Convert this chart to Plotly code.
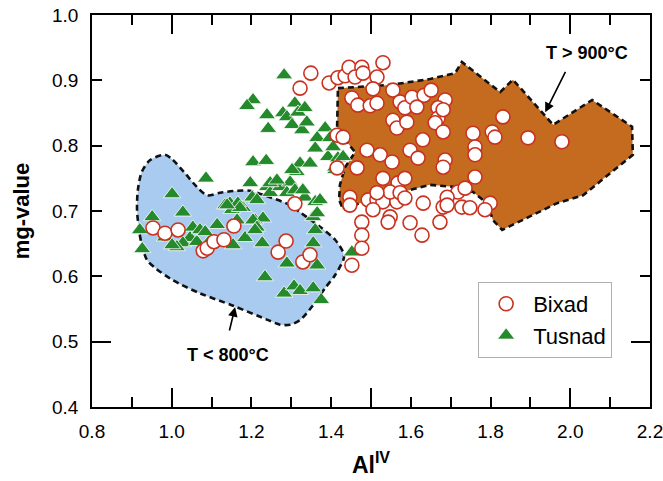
import plotly.graph_objects as go

# ---------------- data ----------------
bixad_x = [1.349,1.322,1.395,1.417,1.435,1.445,1.477,1.530,1.460,1.480,1.515,1.505,1.452,1.467,1.498,1.515,
           1.555,1.573,1.585,1.603,1.633,1.651,1.615,1.686,1.668,1.668,1.555,1.565,1.590,1.661,1.681,1.681,
           1.415,1.430,1.490,1.523,1.553,1.598,1.630,1.618,1.686,1.681,1.756,1.761,1.761,1.761,1.804,1.811,
           1.831,1.894,1.979,1.415,1.465,1.530,1.568,1.585,1.447,1.447,1.493,1.515,1.530,1.565,1.548,1.548,
           1.543,1.598,1.628,1.477,1.477,1.477,1.452,1.631,1.681,1.673,1.718,1.728,1.748,1.736,1.799,1.786,
           1.505,1.515,1.573,1.585,1.691,1.691,1.309,0.953,0.983,1.016,1.079,1.089,1.106,1.131,1.156,1.267,
           1.287,1.329,1.347]
bixad_y = [0.911,0.888,0.896,0.904,0.907,0.920,0.920,0.927,0.905,0.911,0.905,0.887,0.873,0.862,0.861,0.865,
           0.885,0.867,0.858,0.874,0.877,0.885,0.859,0.870,0.858,0.842,0.839,0.827,0.836,0.835,0.821,0.855,
           0.816,0.813,0.793,0.786,0.775,0.793,0.809,0.781,0.778,0.767,0.819,0.798,0.786,0.752,0.821,0.813,
           0.844,0.812,0.806,0.766,0.766,0.750,0.743,0.750,0.721,0.709,0.717,0.717,0.714,0.714,0.729,0.691,
           0.683,0.682,0.663,0.683,0.663,0.643,0.617,0.712,0.706,0.683,0.729,0.706,0.705,0.735,0.712,0.702,
           0.702,0.728,0.728,0.720,0.721,0.709,0.711,0.674,0.666,0.671,0.639,0.643,0.653,0.656,0.677,0.637,
           0.654,0.622,0.633]

tusnad_x = [0.920,0.926,0.951,1.001,1.028,1.086,1.046,1.028,1.013,1.063,1.053,1.071,0.983,1.001,1.114,1.134,
            1.151,1.179,1.164,1.209,1.229,1.184,1.154,1.227,1.202,1.239,1.247,1.272,1.297,1.314,1.289,1.309,
            1.234,1.282,1.307,1.322,1.355,1.375,1.365,1.355,1.289,1.282,1.204,1.189,1.239,1.242,1.279,1.289,
            1.309,1.317,1.334,1.302,1.327,1.339,1.385,1.365,1.397,1.360,1.392,1.417,1.410,1.204,1.237,1.322,
            1.302,1.347,1.247,1.264,1.334,1.360,1.146,1.166,1.197,1.214,1.372,1.355,1.360,1.204,1.214,1.329,
            1.365,1.405,1.430,1.410,1.452,1.171,1.139,1.096,1.084,1.209]
tusnad_y = [0.671,0.642,0.691,0.726,0.698,0.750,0.659,0.651,0.645,0.653,0.675,0.671,0.660,0.648,0.679,0.709,
            0.702,0.705,0.686,0.686,0.689,0.659,0.648,0.651,0.721,0.737,0.728,0.737,0.744,0.760,0.728,0.732,
            0.599,0.574,0.585,0.578,0.582,0.564,0.617,0.651,0.620,0.908,0.870,0.861,0.847,0.826,0.850,0.844,
            0.865,0.851,0.858,0.832,0.824,0.836,0.827,0.812,0.812,0.796,0.783,0.781,0.763,0.775,0.777,0.773,
            0.763,0.773,0.743,0.747,0.721,0.714,0.712,0.712,0.743,0.717,0.717,0.691,0.671,0.686,0.675,0.732,
            0.697,0.798,0.783,0.767,0.637,0.705,0.709,0.655,0.668,0.671]

# T < 800 C field (blue)
blue_x = [0.983,1.003,1.033,1.063,1.089,1.121,1.164,1.196,1.247,1.297,1.322,1.372,1.410,1.430,1.432,1.410,
          1.385,1.355,1.322,1.297,1.272,1.242,1.154,1.071,1.003,0.958,0.938,0.925,0.918,0.913,0.915,0.925,0.946]
blue_y = [0.786,0.778,0.758,0.737,0.724,0.728,0.731,0.731,0.721,0.709,0.698,0.676,0.656,0.637,0.628,0.602,
          0.582,0.556,0.533,0.526,0.526,0.533,0.555,0.574,0.594,0.613,0.625,0.648,0.671,0.702,0.732,0.760,0.778]

# T > 900 C field (orange)
orange_x = [1.417,1.548,1.648,1.711,1.728,1.824,1.856,1.957,2.055,2.155,2.157,2.032,1.967,1.829,1.806,1.791,
            1.756,1.706,1.648,1.598,1.523,1.472,1.430,1.420,1.422,1.435,1.460,1.430,1.415]
orange_y = [0.888,0.893,0.902,0.911,0.928,0.882,0.901,0.832,0.870,0.829,0.786,0.724,0.712,0.671,0.686,0.712,
            0.729,0.737,0.740,0.732,0.721,0.712,0.702,0.717,0.740,0.767,0.790,0.813,0.829]

xtick_vals = [0.8,0.9,1.0,1.1,1.2,1.3,1.4,1.5,1.6,1.7,1.8,1.9,2.0,2.1,2.2]
xtick_text = ["0.8","","1.0","","1.2","","1.4","","1.6","","1.8","","2.0","","2.2"]
xlong_vals = [1.0,1.5,2.0]
ytick_vals = [0.4,0.5,0.6,0.7,0.8,0.9,1.0]
ytick_text = ["0.4","0.5","0.6","0.7","0.8","0.9","1.0"]
ylong_vals = [0.5]

FONT = "Arial, Liberation Sans, sans-serif"

fig = go.Figure()

fig.add_trace(go.Scatter(x=orange_x + orange_x[:1], y=orange_y + orange_y[:1], mode="lines",
                         fill="toself", fillcolor="#c56b1f",
                         line=dict(color="#111111", width=2.6, dash="6px,4px"),
                         showlegend=False, hoverinfo="skip"))
fig.add_trace(go.Scatter(x=blue_x + blue_x[:1], y=blue_y + blue_y[:1], mode="lines",
                         fill="toself", fillcolor="#aacbf0",
                         line=dict(color="#111111", width=2.6, dash="6px,4px", shape="spline", smoothing=0.8),
                         showlegend=False, hoverinfo="skip"))

fig.add_trace(go.Scatter(x=tusnad_x, y=tusnad_y, mode="markers", name="Tusnad", legendrank=2,
                         marker=dict(symbol="triangle-up", size=15, color="#248a2c",
                                     line=dict(color="white", width=0.8))))
fig.add_trace(go.Scatter(x=bixad_x, y=bixad_y, mode="markers", name="Bixad", legendrank=1,
                         marker=dict(symbol="circle", size=14, color="white",
                                     line=dict(color="#c9321f", width=1.6))))

# invisible trace on overlay axes (for long ticks)
fig.add_trace(go.Scatter(x=[None], y=[None], xaxis="x2", yaxis="y2", showlegend=False, hoverinfo="skip"))

axis_common = dict(showgrid=False, zeroline=False, showline=True, linecolor="black", linewidth=1.8,
                   ticks="inside", tickcolor="black", tickwidth=1.6, mirror="ticks", automargin=False)

fig.update_layout(
    width=663, height=481,
    margin=dict(l=92, r=13, t=15, b=74, autoexpand=False),
    paper_bgcolor="white", plot_bgcolor="white",
    font=dict(family=FONT, color="black"),
    xaxis=dict(range=[0.8, 2.2], tickmode="array", tickvals=xtick_vals, ticktext=xtick_text,
               ticklen=10, tickfont=dict(size=19), ticklabelstandoff=6, ticklabeloverflow="allow",
               title=dict(text="<b>Al<sup>IV</sup></b>", font=dict(size=23), standoff=16),
               **axis_common),
    yaxis=dict(range=[0.4, 1.0], tickmode="array", tickvals=ytick_vals, ticktext=ytick_text,
               ticklen=10, tickfont=dict(size=19), ticklabelstandoff=8, ticklabeloverflow="allow",
               title=dict(text="<b>mg-value</b>", font=dict(size=22), standoff=16),
               **axis_common),
    xaxis2=dict(range=[0.8, 2.2], overlaying="x", anchor="y2", side="bottom", tickmode="array",
                tickvals=xlong_vals, ticklen=19, showticklabels=False, **axis_common),
    yaxis2=dict(range=[0.4, 1.0], overlaying="y", anchor="x2", side="left", tickmode="array",
                tickvals=ylong_vals, ticklen=19, showticklabels=False, **axis_common),
    legend=dict(x=0.692, y=0.319, xanchor="left", yanchor="top", bgcolor="white",
                bordercolor="#b0b0b0", borderwidth=1, font=dict(size=22, family=FONT),
                itemwidth=44),
    showlegend=True,
)

# annotations
fig.add_annotation(x=2.041, y=0.942, text="<b>T > 900°C</b>", showarrow=False,
                   font=dict(size=18, family=FONT))
fig.add_annotation(x=1.937, y=0.851, text="", showarrow=True, arrowhead=2, arrowsize=1.2,
                   arrowwidth=1.6, arrowcolor="black", ax=21, ay=-42)
fig.add_annotation(x=1.141, y=0.480, text="<b>T < 800°C</b>", showarrow=False,
                   font=dict(size=18, family=FONT))
fig.add_annotation(x=1.159, y=0.553, text="", showarrow=True, arrowhead=2, arrowsize=1.2,
                   arrowwidth=1.6, arrowcolor="black", ax=-6, ay=25)

fig.write_html("out.html", config={"displayModeBar": False},
               post_script="document.body.style.margin='0';document.body.style.padding='0';")
